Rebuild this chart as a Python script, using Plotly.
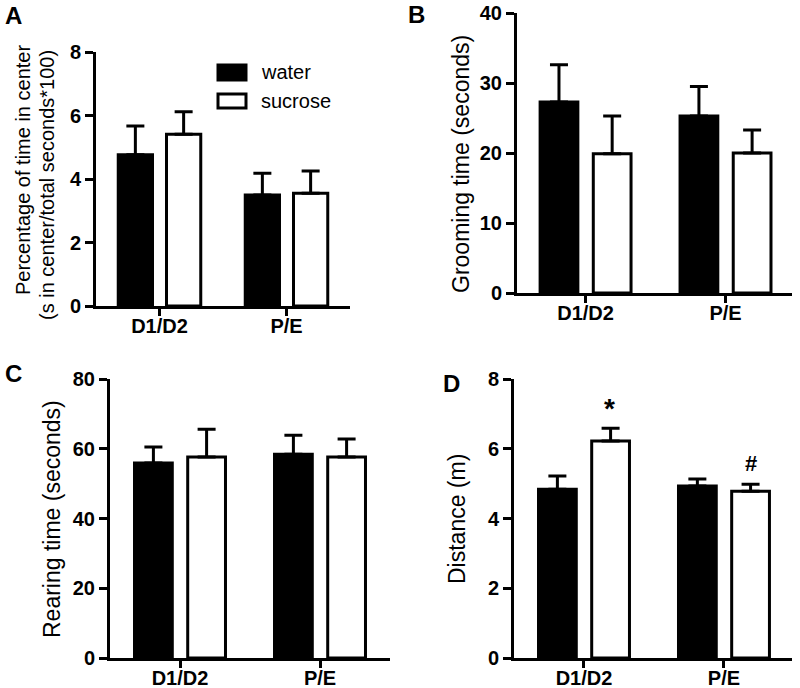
import plotly.graph_objects as go

groups = ["D1/D2", "P/E"]
series = ["water", "sucrose"]

# Panel A: percentage of time in center
a_water = [4.76, 3.50]
a_water_sem = [0.91, 0.68]
a_sucrose = [5.41, 3.55]
a_sucrose_sem = [0.71, 0.70]

# Panel B: grooming time
b_water = [27.3, 25.3]
b_water_sem = [5.3, 4.2]
b_sucrose = [19.9, 20.0]
b_sucrose_sem = [5.4, 3.3]

# Panel C: rearing time
c_water = [55.9, 58.4]
c_water_sem = [4.6, 5.5]
c_sucrose = [57.6, 57.6]
c_sucrose_sem = [8.0, 5.2]

# Panel D: distance
d_water = [4.84, 4.93]
d_water_sem = [0.38, 0.20]
d_sucrose = [6.22, 4.78]
d_sucrose_sem = [0.37, 0.20]

FONT = "Liberation Sans, Arial, sans-serif"
LW = 3

panels = [
    ("x", "y", a_water, a_water_sem, a_sucrose, a_sucrose_sem, [0, 8], 2,
     [96/800, 350/800], [1-306/688, 1-52/688], [-0.5, 1.5]),
    ("x2", "y2", b_water, b_water_sem, b_sucrose, b_sucrose_sem, [0, 40], 10,
     [517/800, 792/800], [1-293/688, 1-13/688], [-0.49, 1.475]),
    ("x3", "y3", c_water, c_water_sem, c_sucrose, c_sucrose_sem, [0, 80], 20,
     [110/800, 390/800], [1-658/688, 1-379/688], [-0.5, 1.5]),
    ("x4", "y4", d_water, d_water_sem, d_sucrose, d_sucrose_sem, [0, 8], 2,
     [514/800, 792/800], [1-658/688, 1-379/688], [-0.5, 1.486]),
]

fig = go.Figure()
layout_axes = {}
for i, (xa, ya, w, ws, s, ss, yr, dt, xd, yd, xr) in enumerate(panels):
    for name, vals, sem, fill in (("water", w, ws, "black"), ("sucrose", s, ss, "white")):
        fig.add_trace(go.Bar(
            x=groups, y=vals, name=name, xaxis=xa, yaxis=ya,
            marker=dict(color=fill, line=dict(color="black", width=LW)),
            error_y=dict(type="data", symmetric=False, array=sem,
                         arrayminus=[0] * len(sem), color="black",
                         thickness=LW, width=9),
            showlegend=False,
        ))
    sfx = "" if i == 0 else str(i + 1)
    layout_axes["xaxis" + sfx] = dict(
        domain=xd, range=xr, anchor=ya, type="category", automargin=False,
        showline=True, linecolor="black", linewidth=LW,
        ticks="outside", ticklen=7, tickwidth=LW, tickcolor="black",
        ticklabelstandoff=-7,
        showgrid=False, zeroline=False, fixedrange=True,
        tickfont=dict(family=FONT, size=20, color="black", weight="bold"),
    )
    layout_axes["yaxis" + sfx] = dict(
        domain=yd, range=yr, dtick=dt, anchor=xa, automargin=False,
        showline=True, linecolor="black", linewidth=LW,
        ticks="outside", ticklen=8, tickwidth=LW, tickcolor="black",
        showgrid=False, zeroline=False,
        tickfont=dict(family=FONT, size=20, color="black", weight="bold"),
    )

annotations = []
# panel letters
for letter, x, y in (("A", 13, 15), ("B", 416, 14), ("C", 13, 373), ("D", 452, 383)):
    annotations.append(dict(text=letter, x=x/800, y=1-y/688, xref="paper", yref="paper",
                            showarrow=False, xanchor="center", yanchor="middle",
                            font=dict(family=FONT, size=24, color="black", weight="bold")))
# axis titles
titles = [
    ("Percentage of time in center", 23, 170, 20),
    ("(s in center/total seconds*100)", 47, 185, 20),
    ("Grooming time (seconds)", 461, 164, 23),
    ("Rearing time (seconds)", 52, 519, 23),
    ("Distance (m)", 457, 519, 23),
]
for t, x, y, sz in titles:
    annotations.append(dict(text=t, x=x/800, y=1-y/688, xref="paper", yref="paper",
                            showarrow=False, textangle=-90, xanchor="center", yanchor="middle",
                            font=dict(family=FONT, size=sz, color="black")))
# legend (panel A)
shapes = [
    dict(type="rect", xref="paper", yref="paper", x0=218/800, x1=246/800,
         y0=1-80/688, y1=1-65/688, fillcolor="black", line=dict(color="black", width=LW)),
    dict(type="rect", xref="paper", yref="paper", x0=218/800, x1=246/800,
         y0=1-108/688, y1=1-94/688, fillcolor="white", line=dict(color="black", width=LW)),
]
for t, y in (("water", 72), ("sucrose", 101)):
    annotations.append(dict(text=t, x=259/800, y=1-y/688, xref="paper", yref="paper",
                            showarrow=False, xanchor="left", yanchor="middle",
                            font=dict(family=FONT, size=20, color="black")))
# significance marks (panel D)
annotations.append(dict(text="<b>*</b>", x="D1/D2", y=d_sucrose[0] + d_sucrose_sem[0],
                        xref="x4", yref="y4", xshift=26, yshift=20, showarrow=False,
                        xanchor="center", yanchor="middle",
                        font=dict(family=FONT, size=28, color="black")))
annotations.append(dict(text="#", x="P/E", y=d_sucrose[1] + d_sucrose_sem[1],
                        xref="x4", yref="y4", xshift=27, yshift=21, showarrow=False,
                        xanchor="center", yanchor="middle",
                        font=dict(family=FONT, size=22, color="black", weight="bold")))

fig.update_layout(
    width=800, height=688, margin=dict(l=0, r=0, t=0, b=0, autoexpand=False),
    paper_bgcolor="white", plot_bgcolor="white",
    barmode="group", bargap=0.24, bargroupgap=0.29,
    showlegend=False, annotations=annotations, shapes=shapes,
    **layout_axes,
)
fig.write_html("out.html", config={"displayModeBar": False},
               post_script="document.body.style.margin='0';document.body.style.overflow='hidden';")
